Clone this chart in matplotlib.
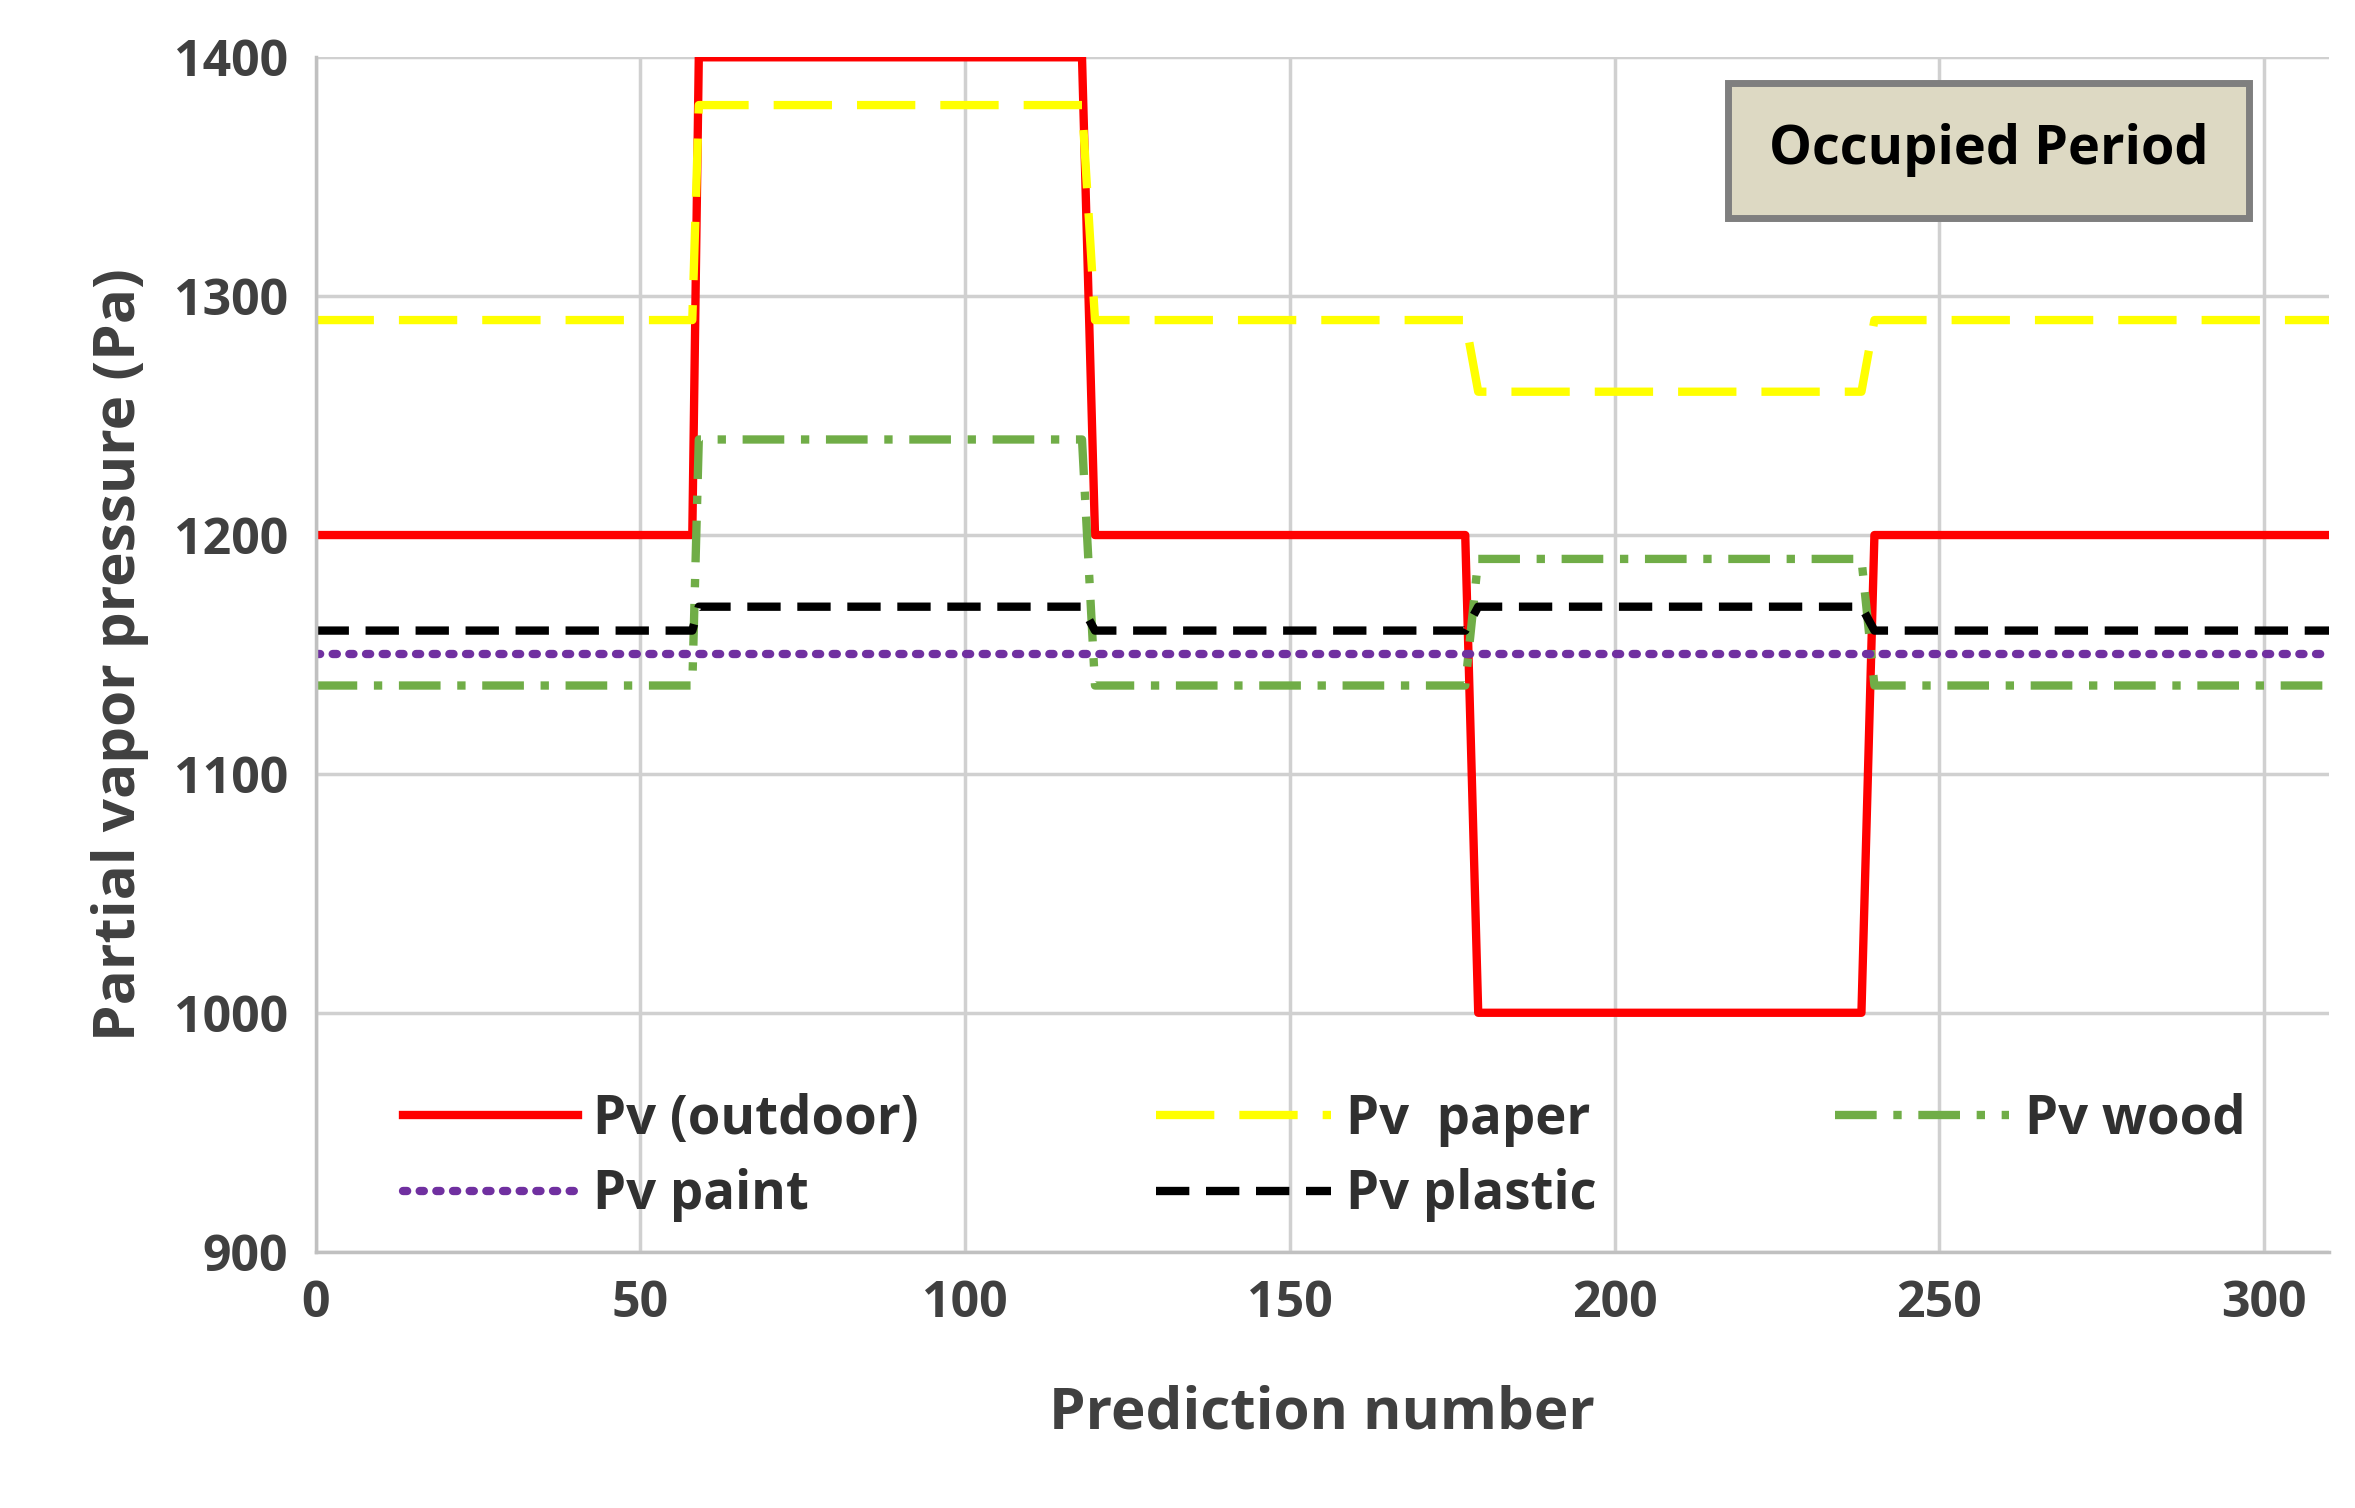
import matplotlib
matplotlib.use("Agg")
from matplotlib import pyplot as plt

# step breakpoints (prediction number)
x = [0, 58, 59, 118, 120, 177, 179, 238, 240, 310]
pv_outdoor = [1200, 1200, 1400, 1400, 1200, 1200, 1000, 1000, 1200, 1200]
pv_paper = [1290, 1290, 1380, 1380, 1290, 1290, 1260, 1260, 1290, 1290]
pv_wood = [1137, 1137, 1240, 1240, 1137, 1137, 1190, 1190, 1137, 1137]
pv_paint = [1150] * 10
pv_plastic = [1160, 1160, 1170, 1170, 1160, 1160, 1170, 1170, 1160, 1160]

txt = '#404040'
plt.rcParams['font.family'] = 'Open Sans'
plt.rcParams['font.weight'] = 'bold'

fig = plt.figure(figsize=(23.55, 15.08), dpi=100)
ax = fig.add_axes([0.134, 0.17, 0.855, 0.792])

l1, = ax.plot(x, pv_outdoor, color='#ff0000', lw=6, label='Pv (outdoor)')
l2, = ax.plot(x, pv_paper, color='#ffff00', lw=6, dashes=(7, 3), label='Pv  paper')
l3, = ax.plot(x, pv_wood, color='#70ad47', lw=6, dashes=(5, 2, 1, 2), label='Pv wood')
l4, = ax.plot(x, pv_paint, color='#7030a0', lw=6, dashes=(0.5, 1.5), dash_capstyle='round', label='Pv paint')
l5, = ax.plot(x, pv_plastic, color='black', lw=6, dashes=(4, 2), label='Pv plastic')

ax.set_xlim(0, 310)
ax.set_ylim(900, 1400)
ax.set_xticks(range(0, 301, 50))
ax.set_yticks(range(900, 1401, 100))
ax.grid(color='#d0d0d0', lw=2.5)
ax.set_axisbelow(True)
for s in ['top', 'right']:
    ax.spines[s].set_visible(False)
for s in ['left', 'bottom']:
    ax.spines[s].set_color('#c0c0c0')
    ax.spines[s].set_linewidth(2.5)
ax.tick_params(length=0, labelsize=36, labelcolor=txt, pad=20)

ax.set_xlabel('Prediction number', fontsize=42, color=txt, fontweight='bold', labelpad=40)
ax.set_ylabel('Partial vapor pressure (Pa)', fontsize=42, color=txt, fontweight='bold', labelpad=18)

# row-major order: outdoor, paper, wood / paint, plastic
ax.legend([l1, l4, l2, l5, l3], ['Pv (outdoor)', 'Pv paint', 'Pv  paper', 'Pv plastic', 'Pv wood'],
          ncol=3, loc='lower left', bbox_to_anchor=(0.02, -0.015), frameon=False,
          fontsize=38, handlelength=3.3, handletextpad=0.3, columnspacing=4.5,
          labelspacing=0.4, labelcolor='#303030')

ax.text(0.831, 0.922, 'Occupied Period', transform=ax.transAxes, fontsize=39,
        color='black', ha='center', va='center',
        bbox=dict(boxstyle='square,pad=0.75', facecolor='#ddd9c3', edgecolor='#7f7f7f', lw=5))

fig.savefig('out.png', dpi=100)
